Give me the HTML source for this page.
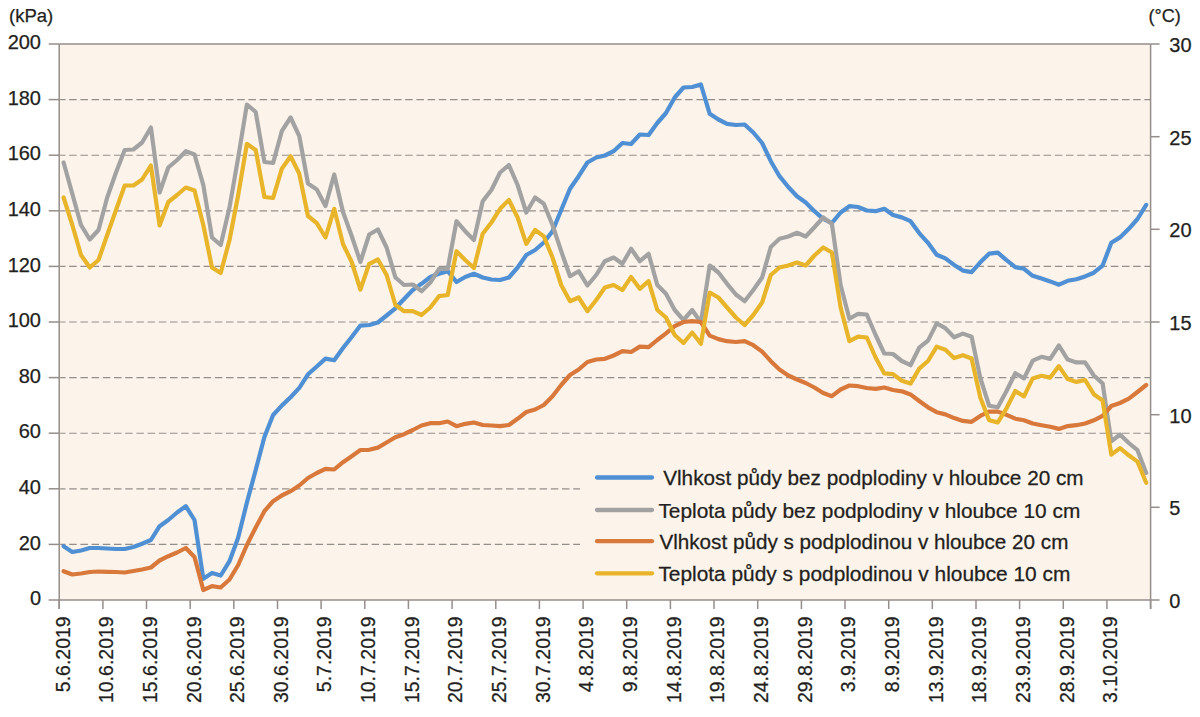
<!DOCTYPE html>
<html><head><meta charset="utf-8"><style>
html,body{margin:0;padding:0;background:#fff;width:1200px;height:717px;overflow:hidden}
svg{display:block}
text{font-family:"Liberation Sans",sans-serif;fill:#231F20;stroke:#231F20;stroke-width:0.25px}
</style></head><body>
<svg width="1200" height="717" viewBox="0 0 1200 717">
<rect x="0" y="0" width="1200" height="717" fill="#fff"/>
<rect x="59.2" y="44.0" width="1091.4" height="556.0" fill="#FCF3EA"/>

<g stroke="#948E8A" stroke-width="1.15" stroke-dasharray="7.5 3.7" stroke-dashoffset="2.2"><line x1="60.2" y1="544.4" x2="580.0" y2="544.4"/><line x1="60.2" y1="488.8" x2="580.0" y2="488.8"/><line x1="60.2" y1="433.2" x2="1150.6" y2="433.2"/><line x1="60.2" y1="377.6" x2="1150.6" y2="377.6"/><line x1="60.2" y1="322.0" x2="1150.6" y2="322.0"/><line x1="60.2" y1="266.4" x2="1150.6" y2="266.4"/><line x1="60.2" y1="210.8" x2="1150.6" y2="210.8"/><line x1="60.2" y1="155.2" x2="1150.6" y2="155.2"/><line x1="60.2" y1="99.6" x2="1150.6" y2="99.6"/></g>
<g stroke="#948E8B" stroke-width="1.5" fill="none">
<line x1="59.2" y1="44.0" x2="1150.6" y2="44.0"/>
<line x1="59.2" y1="600.0" x2="1150.6" y2="600.0"/>
<line x1="59.2" y1="44.0" x2="59.2" y2="609.0"/>
<line x1="1150.6" y1="44.0" x2="1150.6" y2="609.0"/>
<line x1="48.7" y1="600.0" x2="59.2" y2="600.0"/>
<line x1="48.7" y1="544.4" x2="59.2" y2="544.4"/>
<line x1="48.7" y1="488.8" x2="59.2" y2="488.8"/>
<line x1="48.7" y1="433.2" x2="59.2" y2="433.2"/>
<line x1="48.7" y1="377.6" x2="59.2" y2="377.6"/>
<line x1="48.7" y1="322.0" x2="59.2" y2="322.0"/>
<line x1="48.7" y1="266.4" x2="59.2" y2="266.4"/>
<line x1="48.7" y1="210.8" x2="59.2" y2="210.8"/>
<line x1="48.7" y1="155.2" x2="59.2" y2="155.2"/>
<line x1="48.7" y1="99.6" x2="59.2" y2="99.6"/>
<line x1="48.7" y1="44.0" x2="59.2" y2="44.0"/>
<line x1="1150.6" y1="600.0" x2="1159.6" y2="600.0"/>
<line x1="1150.6" y1="507.3" x2="1159.6" y2="507.3"/>
<line x1="1150.6" y1="414.7" x2="1159.6" y2="414.7"/>
<line x1="1150.6" y1="322.0" x2="1159.6" y2="322.0"/>
<line x1="1150.6" y1="229.3" x2="1159.6" y2="229.3"/>
<line x1="1150.6" y1="136.7" x2="1159.6" y2="136.7"/>
<line x1="1150.6" y1="44.0" x2="1159.6" y2="44.0"/>
<line x1="59.2" y1="600.0" x2="59.2" y2="609.0"/>
<line x1="102.9" y1="600.0" x2="102.9" y2="609.0"/>
<line x1="146.5" y1="600.0" x2="146.5" y2="609.0"/>
<line x1="190.2" y1="600.0" x2="190.2" y2="609.0"/>
<line x1="233.8" y1="600.0" x2="233.8" y2="609.0"/>
<line x1="277.5" y1="600.0" x2="277.5" y2="609.0"/>
<line x1="321.1" y1="600.0" x2="321.1" y2="609.0"/>
<line x1="364.8" y1="600.0" x2="364.8" y2="609.0"/>
<line x1="408.4" y1="600.0" x2="408.4" y2="609.0"/>
<line x1="452.1" y1="600.0" x2="452.1" y2="609.0"/>
<line x1="495.8" y1="600.0" x2="495.8" y2="609.0"/>
<line x1="539.4" y1="600.0" x2="539.4" y2="609.0"/>
<line x1="583.1" y1="600.0" x2="583.1" y2="609.0"/>
<line x1="626.7" y1="600.0" x2="626.7" y2="609.0"/>
<line x1="670.4" y1="600.0" x2="670.4" y2="609.0"/>
<line x1="714.0" y1="600.0" x2="714.0" y2="609.0"/>
<line x1="757.7" y1="600.0" x2="757.7" y2="609.0"/>
<line x1="801.4" y1="600.0" x2="801.4" y2="609.0"/>
<line x1="845.0" y1="600.0" x2="845.0" y2="609.0"/>
<line x1="888.7" y1="600.0" x2="888.7" y2="609.0"/>
<line x1="932.3" y1="600.0" x2="932.3" y2="609.0"/>
<line x1="976.0" y1="600.0" x2="976.0" y2="609.0"/>
<line x1="1019.6" y1="600.0" x2="1019.6" y2="609.0"/>
<line x1="1063.3" y1="600.0" x2="1063.3" y2="609.0"/>
<line x1="1106.9" y1="600.0" x2="1106.9" y2="609.0"/>
<line x1="1150.6" y1="600.0" x2="1150.6" y2="609.0"/>
</g>
<polyline fill="none" stroke="#4F8FD3" stroke-width="4.2" stroke-linejoin="round" stroke-linecap="round" points="63.6,546.2 72.3,552.0 81.0,550.5 89.8,548.0 98.5,548.0 107.2,548.5 116.0,549.0 124.7,549.0 133.4,547.0 142.1,543.8 150.9,540.0 159.6,526.2 168.3,520.0 177.1,512.5 185.8,506.2 194.5,520.0 203.3,578.8 212.0,573.0 220.7,575.5 229.5,561.2 238.2,537.5 246.9,502.5 255.7,470.0 264.4,437.0 273.1,415.0 281.8,405.6 290.6,397.3 299.3,387.9 308.0,374.3 316.8,366.5 325.5,358.6 334.2,360.2 343.0,348.0 351.7,337.0 360.4,325.6 369.2,325.0 377.9,322.5 386.6,315.5 395.4,308.3 404.1,299.0 412.8,290.0 421.5,283.8 430.3,277.0 439.0,273.8 447.7,271.2 456.5,282.0 465.2,277.0 473.9,273.8 482.7,277.5 491.4,279.5 500.1,280.0 508.9,277.5 517.6,267.5 526.3,255.0 535.1,250.0 543.8,242.5 552.5,231.2 561.2,210.0 570.0,188.8 578.7,176.2 587.4,162.5 596.2,157.5 604.9,155.5 613.6,151.2 622.4,143.0 631.1,144.0 639.8,134.5 648.6,135.0 657.3,123.0 666.0,113.0 674.7,97.5 683.5,87.5 692.2,87.0 700.9,84.5 709.7,113.8 718.4,119.5 727.1,123.8 735.9,125.0 744.6,124.5 753.3,132.5 762.1,143.0 770.8,161.2 779.5,176.2 788.3,187.0 797.0,196.2 805.7,202.5 814.4,211.2 823.2,218.8 831.9,223.0 840.6,212.5 849.4,206.2 858.1,207.0 866.8,210.5 875.6,211.2 884.3,208.8 893.0,215.0 901.8,217.4 910.5,221.2 919.2,233.1 928.0,242.8 936.7,254.8 945.4,258.4 954.1,264.9 962.9,270.6 971.6,272.1 980.3,262.3 989.1,253.7 997.8,252.6 1006.5,260.2 1015.3,267.1 1024.0,268.8 1032.7,275.8 1041.5,278.6 1050.2,281.4 1058.9,284.7 1067.7,280.8 1076.4,279.2 1085.1,276.4 1093.8,272.7 1102.6,265.6 1111.3,242.8 1120.0,237.4 1128.8,228.8 1137.5,219.0 1146.2,204.9"/>
<polyline fill="none" stroke="#A2A2A2" stroke-width="4.2" stroke-linejoin="round" stroke-linecap="round" points="63.6,162.5 72.3,193.8 81.0,225.0 89.8,239.5 98.5,230.0 107.2,197.5 116.0,172.5 124.7,150.0 133.4,149.5 142.1,142.5 150.9,127.5 159.6,192.5 168.3,167.5 177.1,160.0 185.8,151.2 194.5,154.5 203.3,185.0 212.0,237.5 220.7,245.0 229.5,207.5 238.2,157.5 246.9,104.5 255.7,112.0 264.4,162.0 273.1,163.0 281.8,131.2 290.6,117.5 299.3,136.2 308.0,183.5 316.8,189.5 325.5,206.0 334.2,174.5 343.0,212.0 351.7,236.0 360.4,262.0 369.2,234.5 377.9,229.5 386.6,247.5 395.4,277.5 404.1,285.0 412.8,284.5 421.5,291.2 430.3,282.5 439.0,268.8 447.7,268.8 456.5,221.2 465.2,231.2 473.9,240.0 482.7,201.2 491.4,190.0 500.1,172.5 508.9,165.0 517.6,185.0 526.3,212.5 535.1,197.5 543.8,203.8 552.5,225.0 561.2,251.2 570.0,276.2 578.7,271.2 587.4,285.5 596.2,275.0 604.9,261.2 613.6,257.5 622.4,263.8 631.1,248.8 639.8,261.2 648.6,253.8 657.3,285.0 666.0,293.8 674.7,310.0 683.5,320.0 692.2,310.0 700.9,322.5 709.7,265.5 718.4,272.5 727.1,283.8 735.9,294.5 744.6,301.2 753.3,290.0 762.1,277.5 770.8,247.0 779.5,238.8 788.3,236.5 797.0,232.8 805.7,236.5 814.4,227.2 823.2,217.5 831.9,223.8 840.6,285.0 849.4,318.8 858.1,313.8 866.8,314.5 875.6,335.0 884.3,353.5 893.0,354.0 901.8,361.0 910.5,365.2 919.2,347.7 928.0,340.6 936.7,323.4 945.4,328.2 954.1,337.3 962.9,333.6 971.6,336.8 980.3,378.0 989.1,405.7 997.8,407.3 1006.5,391.0 1015.3,373.2 1024.0,378.4 1032.7,360.7 1041.5,356.8 1050.2,358.9 1058.9,345.5 1067.7,359.6 1076.4,362.4 1085.1,362.3 1093.8,375.5 1102.6,383.4 1111.3,441.4 1120.0,434.5 1128.8,443.0 1137.5,450.2 1146.2,472.9"/>
<polyline fill="none" stroke="#D8783A" stroke-width="4.2" stroke-linejoin="round" stroke-linecap="round" points="63.6,571.2 72.3,574.5 81.0,573.5 89.8,572.0 98.5,571.5 107.2,571.8 116.0,572.0 124.7,572.5 133.4,571.0 142.1,569.5 150.9,567.5 159.6,560.5 168.3,556.2 177.1,552.5 185.8,548.0 194.5,557.0 203.3,590.0 212.0,586.2 220.7,587.5 229.5,579.5 238.2,565.0 246.9,545.0 255.7,527.5 264.4,511.2 273.1,501.2 281.8,495.5 290.6,491.2 299.3,485.5 308.0,478.0 316.8,473.0 325.5,468.8 334.2,469.5 343.0,462.2 351.7,456.2 360.4,450.0 369.2,449.8 377.9,447.6 386.6,442.5 395.4,437.2 404.1,434.2 412.8,430.0 421.5,425.5 430.3,423.2 439.0,423.2 447.7,421.5 456.5,426.2 465.2,423.8 473.9,422.5 482.7,425.0 491.4,425.5 500.1,426.2 508.9,425.0 517.6,418.8 526.3,412.0 535.1,409.5 543.8,405.0 552.5,396.2 561.2,385.0 570.0,375.0 578.7,369.5 587.4,362.0 596.2,359.5 604.9,358.8 613.6,355.5 622.4,351.2 631.1,352.0 639.8,346.6 648.6,347.2 657.3,340.0 666.0,333.4 674.7,326.2 683.5,322.0 692.2,321.2 700.9,322.0 709.7,335.6 718.4,339.1 727.1,341.2 735.9,342.0 744.6,341.2 753.3,345.2 762.1,351.6 770.8,361.2 779.5,369.5 788.3,375.5 797.0,379.5 805.7,383.0 814.4,387.5 823.2,393.0 831.9,396.2 840.6,389.5 849.4,385.5 858.1,386.2 866.8,388.0 875.6,388.8 884.3,387.5 893.0,390.0 901.8,391.3 910.5,394.4 919.2,401.0 928.0,407.3 936.7,412.2 945.4,414.4 954.1,418.1 962.9,420.9 971.6,421.8 980.3,415.9 989.1,411.6 997.8,411.6 1006.5,414.8 1015.3,418.7 1024.0,420.3 1032.7,423.5 1041.5,425.2 1050.2,426.8 1058.9,428.9 1067.7,426.1 1076.4,425.2 1085.1,423.5 1093.8,420.3 1102.6,415.9 1111.3,406.0 1120.0,403.0 1128.8,398.7 1137.5,392.0 1146.2,385.0"/>
<polyline fill="none" stroke="#E8B52A" stroke-width="4.2" stroke-linejoin="round" stroke-linecap="round" points="63.6,197.5 72.3,225.0 81.0,255.0 89.8,267.5 98.5,260.0 107.2,235.0 116.0,210.0 124.7,185.5 133.4,185.5 142.1,179.5 150.9,165.5 159.6,225.5 168.3,202.0 177.1,195.0 185.8,187.5 194.5,190.5 203.3,225.0 212.0,267.5 220.7,273.0 229.5,240.0 238.2,195.0 246.9,143.8 255.7,150.0 264.4,197.0 273.1,198.0 281.8,168.8 290.6,156.2 299.3,173.8 308.0,216.0 316.8,223.2 325.5,237.5 334.2,208.8 343.0,244.0 351.7,262.0 360.4,289.5 369.2,263.8 377.9,259.5 386.6,275.0 395.4,305.0 404.1,311.2 412.8,311.2 421.5,315.0 430.3,307.5 439.0,296.2 447.7,295.0 456.5,251.2 465.2,260.0 473.9,268.0 482.7,233.8 491.4,222.5 500.1,208.8 508.9,200.0 517.6,217.5 526.3,243.8 535.1,230.0 543.8,236.2 552.5,257.5 561.2,285.0 570.0,301.2 578.7,297.5 587.4,311.2 596.2,300.0 604.9,287.5 613.6,285.0 622.4,290.0 631.1,276.9 639.8,288.8 648.6,281.2 657.3,310.0 666.0,317.5 674.7,335.0 683.5,343.0 692.2,332.5 700.9,343.8 709.7,292.5 718.4,297.5 727.1,307.5 735.9,317.5 744.6,325.0 753.3,315.0 762.1,302.5 770.8,275.0 779.5,267.5 788.3,265.5 797.0,262.5 805.7,265.5 814.4,255.5 823.2,247.5 831.9,252.5 840.6,307.5 849.4,341.2 858.1,336.6 866.8,337.5 875.6,357.5 884.3,373.4 893.0,374.1 901.8,380.7 910.5,383.6 919.2,368.6 928.0,361.0 936.7,346.6 945.4,349.8 954.1,358.1 962.9,355.2 971.6,358.5 980.3,397.5 989.1,420.3 997.8,422.4 1006.5,408.3 1015.3,391.0 1024.0,396.4 1032.7,378.4 1041.5,375.8 1050.2,377.6 1058.9,366.1 1067.7,379.1 1076.4,381.9 1085.1,380.0 1093.8,394.2 1102.6,400.5 1111.3,454.7 1120.0,448.1 1128.8,455.3 1137.5,461.6 1146.2,482.7"/>
<g font-size="20" text-anchor="end">
<text x="41" y="605.2">0</text>
<text x="41" y="549.6">20</text>
<text x="41" y="494.0">40</text>
<text x="41" y="438.4">60</text>
<text x="41" y="382.8">80</text>
<text x="41" y="327.2">100</text>
<text x="41" y="271.6">120</text>
<text x="41" y="216.0">140</text>
<text x="41" y="160.4">160</text>
<text x="41" y="104.8">180</text>
<text x="41" y="49.2">200</text>
</g>
<g font-size="20" text-anchor="start">
<text x="1169.3" y="608.1">0</text>
<text x="1169.3" y="515.4">5</text>
<text x="1169.3" y="422.8">10</text>
<text x="1169.3" y="330.1">15</text>
<text x="1169.3" y="237.4">20</text>
<text x="1169.3" y="144.8">25</text>
<text x="1169.3" y="52.1">30</text>
</g>
<text x="9" y="22" font-size="18.5">(kPa)</text>
<text x="1148.5" y="22" font-size="18">(°C)</text>
<g font-size="19.5" text-anchor="end">
<text transform="translate(69.5,616.3) rotate(-90)">5.6.2019</text>
<text transform="translate(113.2,616.3) rotate(-90)">10.6.2019</text>
<text transform="translate(156.8,616.3) rotate(-90)">15.6.2019</text>
<text transform="translate(200.5,616.3) rotate(-90)">20.6.2019</text>
<text transform="translate(244.1,616.3) rotate(-90)">25.6.2019</text>
<text transform="translate(287.8,616.3) rotate(-90)">30.6.2019</text>
<text transform="translate(331.4,616.3) rotate(-90)">5.7.2019</text>
<text transform="translate(375.1,616.3) rotate(-90)">10.7.2019</text>
<text transform="translate(418.7,616.3) rotate(-90)">15.7.2019</text>
<text transform="translate(462.4,616.3) rotate(-90)">20.7.2019</text>
<text transform="translate(506.1,616.3) rotate(-90)">25.7.2019</text>
<text transform="translate(549.7,616.3) rotate(-90)">30.7.2019</text>
<text transform="translate(593.4,616.3) rotate(-90)">4.8.2019</text>
<text transform="translate(637.0,616.3) rotate(-90)">9.8.2019</text>
<text transform="translate(680.7,616.3) rotate(-90)">14.8.2019</text>
<text transform="translate(724.3,616.3) rotate(-90)">19.8.2019</text>
<text transform="translate(768.0,616.3) rotate(-90)">24.8.2019</text>
<text transform="translate(811.7,616.3) rotate(-90)">29.8.2019</text>
<text transform="translate(855.3,616.3) rotate(-90)">3.9.2019</text>
<text transform="translate(899.0,616.3) rotate(-90)">8.9.2019</text>
<text transform="translate(942.6,616.3) rotate(-90)">13.9.2019</text>
<text transform="translate(986.3,616.3) rotate(-90)">18.9.2019</text>
<text transform="translate(1029.9,616.3) rotate(-90)">23.9.2019</text>
<text transform="translate(1073.6,616.3) rotate(-90)">28.9.2019</text>
<text transform="translate(1117.2,616.3) rotate(-90)">3.10.2019</text>
</g>
<line x1="597" y1="477.5" x2="652" y2="477.5" stroke="#4F8FD3" stroke-width="4.3" stroke-linecap="round"/>
<text transform="translate(663.2,485.3) scale(1.036,1)" font-size="20">Vlhkost půdy bez podplodiny v hloubce 20 cm</text>
<line x1="597" y1="510.0" x2="652" y2="510.0" stroke="#A2A2A2" stroke-width="4.3" stroke-linecap="round"/>
<text transform="translate(658.4,517.8) scale(1.043,1)" font-size="20">Teplota půdy bez podplodiny v hloubce 10 cm</text>
<line x1="597" y1="541.2" x2="652" y2="541.2" stroke="#D8783A" stroke-width="4.3" stroke-linecap="round"/>
<text transform="translate(659.4,548.8) scale(1.034,1)" font-size="20">Vlhkost půdy s podplodinou v hloubce 20 cm</text>
<line x1="597" y1="573.3" x2="652" y2="573.3" stroke="#E8B52A" stroke-width="4.3" stroke-linecap="round"/>
<text transform="translate(658.4,581.3) scale(1.044,1)" font-size="20">Teplota půdy s podplodinou v hloubce 10 cm</text>
</svg></body></html>
